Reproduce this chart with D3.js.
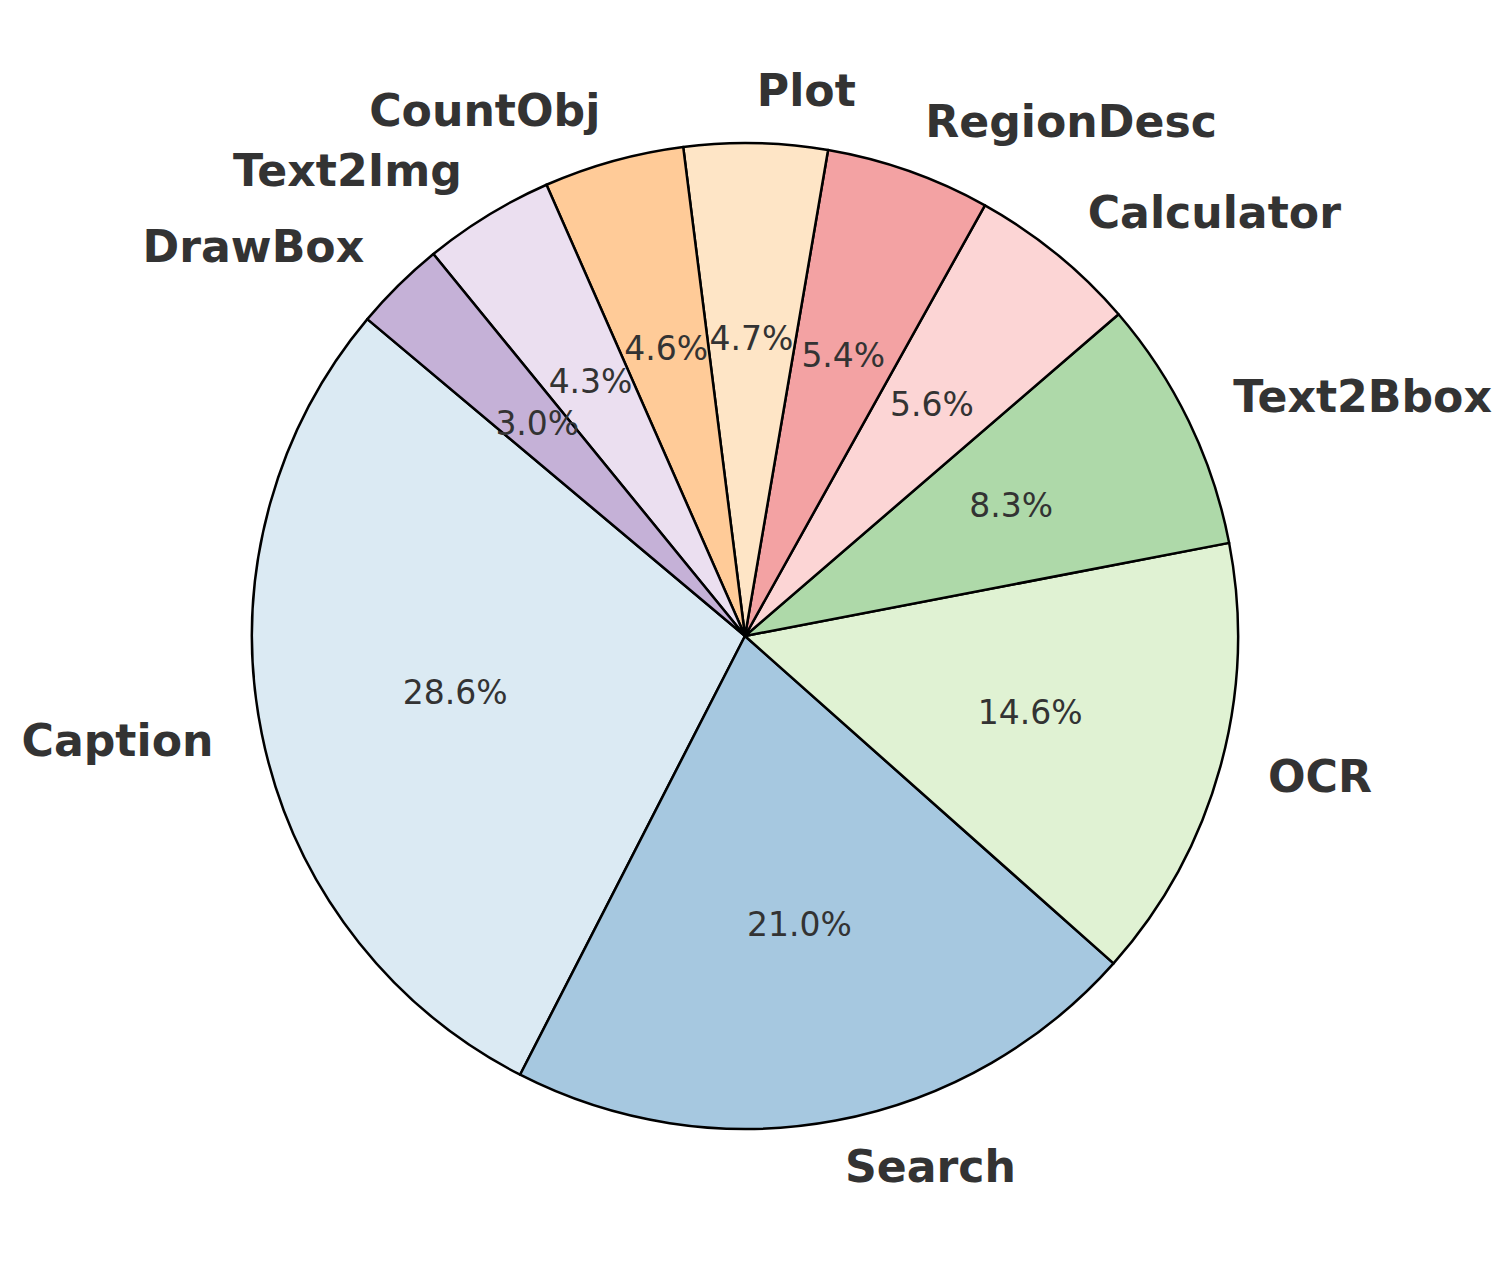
<!DOCTYPE html>
<html>
<head>
<meta charset="utf-8">
<script src="https://cdn.jsdelivr.net/npm/d3@7"></script>
<style>
  html, body { margin: 0; padding: 0; background: #fff; }
  svg { display: block; }
</style>
</head>
<body>
<div id="chart"></div>
<script>
// slice data, counterclockwise from the start angle (like matplotlib)
var tools = ["Caption", "Search", "OCR", "Text2Bbox", "Calculator", "RegionDesc", "Plot", "CountObj", "Text2Img", "DrawBox"];
var shares = [28.6, 21.0, 14.6, 8.3, 5.6, 5.4, 4.7, 4.6, 4.3, 3.0];
var colors = ["#dbeaf3", "#a6c8e0", "#e0f2d3", "#aed9a9", "#fcd5d5", "#f3a2a3", "#fee5c6", "#ffcb98", "#ebdff0", "#c5b1d7"];

var width = 1512,
    height = 1272,
    cx = 745,
    cy = 636,
    radius = 493,
    startDeg = 140;   // matplotlib startangle

var data = tools.map(function(t, i) { return { name: t, value: shares[i], color: colors[i] }; });

// matplotlib angle (ccw from 3 o'clock) -> d3 angle (cw from 12 o'clock)
var a0 = (90 - startDeg) * Math.PI / 180;
var pie = d3.pie()
    .sort(null)
    .value(function(d) { return d.value; })
    .startAngle(a0)
    .endAngle(a0 - 2 * Math.PI);

var arcs = pie(data);
var total = d3.sum(shares);
var arc = d3.arc().innerRadius(0).outerRadius(radius);

var svg = d3.select("#chart").append("svg")
    .attr("width", width)
    .attr("height", height);

var g = svg.append("g")
    .attr("transform", "translate(" + cx + "," + cy + ")");

g.selectAll("path.slice")
    .data(arcs)
  .enter().append("path")
    .attr("class", "slice")
    .attr("d", arc)
    .attr("fill", function(d) { return d.data.color; })
    .attr("stroke", "#000")
    .attr("stroke-width", 2.5)
    .attr("stroke-linejoin", "round");

function pos(d, f) {
  var a = (d.startAngle + d.endAngle) / 2;
  return [radius * f * Math.sin(a), -radius * f * Math.cos(a)];
}

// category labels at 1.1 * r
g.selectAll("text.label")
    .data(arcs)
  .enter().append("text")
    .attr("class", "label")
    .attr("x", function(d) { return pos(d, 1.1)[0]; })
    .attr("y", function(d) { return pos(d, 1.1)[1] - 3; })
    .attr("text-anchor", function(d) { return pos(d, 1.1)[0] > 0 ? "start" : "end"; })
    .attr("dominant-baseline", "central")
    .style("font-family", "'DejaVu Sans', sans-serif")
    .style("font-weight", "bold")
    .style("font-size", "44.2px")
    .style("fill", "#333333")
    .text(function(d) { return d.data.name; });

// percentages at 0.6 * r
g.selectAll("text.pct")
    .data(arcs)
  .enter().append("text")
    .attr("class", "pct")
    .attr("x", function(d) { return pos(d, 0.6)[0]; })
    .attr("y", function(d) { return pos(d, 0.6)[1] - 2; })
    .attr("text-anchor", "middle")
    .attr("dominant-baseline", "central")
    .style("font-family", "'DejaVu Sans', sans-serif")
    .style("font-size", "33px")
    .style("fill", "#333333")
    .text(function(d) { return (d.value / total * 100).toFixed(1) + "%"; });
</script>
</body>
</html>
